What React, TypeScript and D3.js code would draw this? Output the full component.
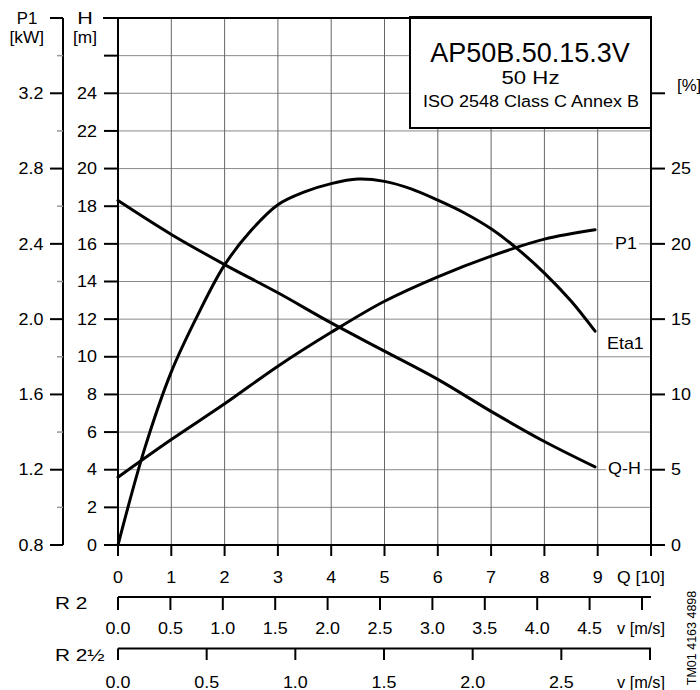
import React from "react";
import * as d3 from "d3";

// ---- data ----
const qTicks = [0, 1, 2, 3, 4, 5, 6, 7, 8, 9];
const qGrid = [1, 2, 3, 4, 5, 6, 7, 8, 9];
const hTicks = [0, 2, 4, 6, 8, 10, 12, 14, 16, 18, 20, 22, 24];
const hGrid = [2, 4, 6, 8, 10, 12, 14, 16, 18, 20, 22, 24, 26];
const p1Major = [0.8, 1.2, 1.6, 2.0, 2.4, 2.8, 3.2];
const p1Minor = [1.0, 1.4, 1.8, 2.2, 2.6, 3.0, 3.4];
const etaTicks = [0, 5, 10, 15, 20, 25];
const r2Ticks = [0, 0.5, 1, 1.5, 2, 2.5, 3, 3.5, 4, 4.5, 5];
const r2Labels = [0, 0.5, 1, 1.5, 2, 2.5, 3, 3.5, 4, 4.5];
const r25Ticks = [0, 0.5, 1, 1.5, 2, 2.5, 3];
const r25Labels = [0, 0.5, 1, 1.5, 2, 2.5];

const qhQ = [0, 1, 2, 3, 4, 5, 6, 7, 8, 8.95];
const qhH = [18.3, 16.5, 14.9, 13.4, 11.8, 10.3, 8.8, 7.1, 5.5, 4.15];

const p1Q = [0, 1, 2, 3, 4, 5, 6, 7, 8, 8.95];
const p1Val = [1.16, 1.36, 1.55, 1.75, 1.93, 2.095, 2.225, 2.335, 2.425, 2.475];

const etaQ = [0, 0.5, 1, 1.5, 2, 2.5, 3, 3.5, 4, 4.5, 5, 5.5, 6, 6.5, 7, 7.5, 8, 8.5, 8.95];
const etaVal = [0, 6.4, 11.5, 15.3, 18.6, 20.9, 22.6, 23.45, 24.0, 24.3, 24.15, 23.65, 22.9, 22.05, 21.0, 19.65, 18.06, 16.2, 14.2];

const FONT = "'Liberation Sans', Arial, Helvetica, sans-serif";

type TP = {
  x: number;
  y: number;
  s?: number;
  sx?: number;
  anchor?: "start" | "middle" | "end";
  children: React.ReactNode;
};
const T = ({ x, y, s = 16, sx = 1.12, anchor = "start", children }: TP) => (
  <text
    transform={`translate(${x},${y}) scale(${sx},1)`}
    fontSize={s}
    textAnchor={anchor}
    fill="#000"
  >
    {children}
  </text>
);

export default function App() {
  const x = d3.scaleLinear().domain([0, 10]).range([118, 651]);
  const yH = d3.scaleLinear().domain([0, 28]).range([545, 18]);
  const yP = d3.scaleLinear().domain([0.8, 3.6]).range([545, 18]);
  const yE = d3.scaleLinear().domain([0, 35]).range([545, 18]);
  const vR2 = d3.scaleLinear().domain([0, 5]).range([118, 642]);
  const vR25 = d3.scaleLinear().domain([0, 3]).range([118, 650]);

  const lineGen = (xs: number[], ys: number[], ys2: (v: number) => number) =>
    d3
      .line<number>()
      .x((_, i) => x(xs[i]))
      .y((d) => ys2(d))
      .curve(d3.curveCatmullRom.alpha(0.5))(ys) || "";

  const qhPath = lineGen(qhQ, qhH, yH);
  const p1Path = lineGen(p1Q, p1Val, yP);
  const etaPath = lineGen(etaQ, etaVal, yE);

  const fmt1 = d3.format(".1f");
  const top = yH(28);
  const bottom = yH(0);
  const left = x(0);
  const right = x(10);

  return (
    <svg
      width={700}
      height={690}
      style={{ position: "absolute", left: 0, top: 0, background: "#fff" }}
      fontFamily={FONT}
    >
      <rect x={0} y={0} width={700} height={690} fill="#fff" />
      {/* grid */}
      {hGrid.map((h) => (
        <line key={"hg" + h} x1={left} x2={right} y1={yH(h)} y2={yH(h)} stroke="#8a8a8a" strokeWidth={1} />
      ))}
      {qGrid.map((q) => (
        <line key={"qg" + q} x1={x(q)} x2={x(q)} y1={top} y2={bottom} stroke="#666" strokeWidth={1} />
      ))}

      {/* title box */}
      <rect x={410} y={17} width={241} height={111} fill="#fff" stroke="#000" strokeWidth={2} />
      <T x={530} y={62} s={27} sx={1.0} anchor="middle">AP50B.50.15.3V</T>
      <T x={530.5} y={83.5} s={18.5} sx={1.2} anchor="middle">50 Hz</T>
      <T x={531} y={106.5} s={16.5} sx={1.09} anchor="middle">ISO 2548 Class C Annex B</T>

      {/* curves */}
      <path d={qhPath} fill="none" stroke="#000" strokeWidth={3} strokeLinecap="round" />
      <path d={p1Path} fill="none" stroke="#000" strokeWidth={3} strokeLinecap="round" />
      <path d={etaPath} fill="none" stroke="#000" strokeWidth={3} strokeLinecap="round" />

      {/* curve labels */}
      <rect x={613} y={234} width={26} height={18} fill="#fff" />
      <T x={615} y={249}>P1</T>
      <T x={607} y={349}>Eta1</T>
      <rect x={606} y={459} width={38} height={18} fill="#fff" />
      <T x={608} y={474}>Q-H</T>

      {/* H axis */}
      <line x1={left} x2={left} y1={top} y2={556} stroke="#000" strokeWidth={2} />
      <line x1={103} x2={right} y1={top} y2={top} stroke="#000" strokeWidth={2} />
      <line x1={104} x2={right} y1={bottom} y2={bottom} stroke="#000" strokeWidth={2} />
      {hGrid.concat([0]).map((h) => (
        <line key={"ht" + h} x1={104} x2={left} y1={yH(h)} y2={yH(h)} stroke="#000" strokeWidth={2} />
      ))}
      {hTicks.map((h) => (
        <T key={"hl" + h} x={97} y={yH(h) + 5.7} anchor="end">
          {h}
        </T>
      ))}
      <T x={85} y={24} sx={1.35} anchor="middle">H</T>
      <T x={85} y={43} sx={1.08} anchor="middle">[m]</T>

      {/* P1 axis */}
      <line x1={63} x2={63} y1={top} y2={bottom} stroke="#000" strokeWidth={2} />
      <line x1={50} x2={63} y1={yP(3.6)} y2={yP(3.6)} stroke="#000" strokeWidth={2} />
      {p1Major.map((p) => (
        <line key={"pt" + p} x1={50} x2={63} y1={yP(p)} y2={yP(p)} stroke="#000" strokeWidth={2} />
      ))}
      {p1Minor.map((p) => (
        <line key={"pm" + p} x1={57} x2={63} y1={yP(p)} y2={yP(p)} stroke="#999" strokeWidth={1.5} />
      ))}
      {p1Major.map((p) => (
        <T key={"pl" + p} x={43.5} y={yP(p) + 5.7} anchor="end">
          {fmt1(p)}
        </T>
      ))}
      <T x={27} y={24} sx={1.05} anchor="middle">P1</T>
      <T x={44} y={43} sx={1.08} anchor="end">[kW]</T>

      {/* Eta axis (right) */}
      <line x1={right} x2={right} y1={top} y2={556} stroke="#000" strokeWidth={2} />
      {etaTicks.concat([30]).map((e) => (
        <line key={"et" + e} x1={right} x2={665} y1={yE(e)} y2={yE(e)} stroke="#000" strokeWidth={2} />
      ))}
      {etaTicks.map((e) => (
        <T key={"el" + e} x={671} y={yE(e) + 5.7}>
          {e}
        </T>
      ))}
      <T x={677} y={90.5} sx={1.05}>[%]</T>

      {/* Q axis */}
      {qTicks.concat([10]).map((q) => (
        <line key={"qt" + q} x1={x(q)} x2={x(q)} y1={bottom} y2={556} stroke="#000" strokeWidth={2} />
      ))}
      {qTicks.map((q) => (
        <T key={"ql" + q} x={x(q)} y={582.5} anchor="middle">
          {q}
        </T>
      ))}
      <T x={617} y={582.5} sx={1.1}>Q [10]</T>

      {/* R 2 velocity axis */}
      <line x1={118} x2={651} y1={597} y2={597} stroke="#000" strokeWidth={2} />
      {r2Ticks.map((v) => (
        <line key={"r2t" + v} x1={vR2(v)} x2={vR2(v)} y1={597} y2={610} stroke="#000" strokeWidth={2} />
      ))}
      {r2Labels.map((v) => (
        <T key={"r2l" + v} x={vR2(v)} y={634} anchor="middle">
          {fmt1(v)}
        </T>
      ))}
      <T x={55} y={608.5} sx={1.3}>R 2</T>
      <T x={617} y={634} sx={1.02}>v [m/s]</T>

      {/* R 2½ velocity axis */}
      <line x1={118} x2={651} y1={648.5} y2={648.5} stroke="#000" strokeWidth={2} />
      {r25Ticks.map((v) => (
        <line key={"r25t" + v} x1={vR25(v)} x2={vR25(v)} y1={648.5} y2={660} stroke="#000" strokeWidth={2} />
      ))}
      {r25Labels.map((v) => (
        <T key={"r25l" + v} x={vR25(v)} y={687.5} anchor="middle">
          {fmt1(v)}
        </T>
      ))}
      <T x={55} y={661} sx={1.3}>R 2½</T>
      <T x={617} y={687.5} sx={1.02}>v [m/s]</T>

      {/* document code */}
      <text
        x={0}
        y={0}
        fontSize={12.5}
        textAnchor="middle"
        fill="#000"
        transform="translate(696,638) rotate(-90)"
      >
        TM01 4163 4898
      </text>
    </svg>
  );
}
